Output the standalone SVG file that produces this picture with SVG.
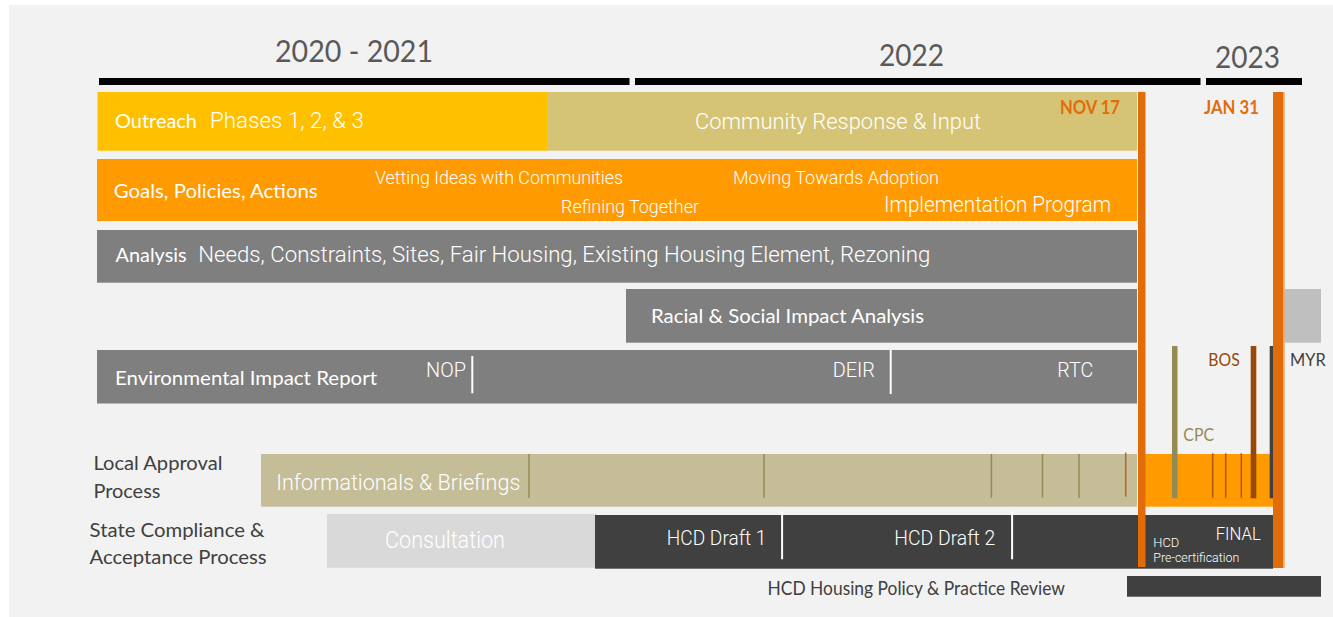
<svg xmlns="http://www.w3.org/2000/svg" width="1333" height="617" viewBox="0 0 1333 617">
  <style>
    .cal { font-family: Lato, "Open Sans", sans-serif; }
    .lt { font-family: Roboto, "Liberation Sans", sans-serif; font-weight: 300; }
    .w { fill: #ffffff; }
    .dk { fill: #404040; }
    .yr { font-size: 31px; fill: #595959; }
    .ms { font-size: 18px; font-weight: 700; fill: #E36C0A; }
    .grey { fill: #7F7F7F; }
    .tick-olive { stroke: #948A54; stroke-width: 1.5; }
    .tick-white { stroke: #ffffff; stroke-width: 2; }
  </style>

  <!-- canvas -->
  <rect x="0" y="0" width="1333" height="617" fill="#ffffff"/>
  <rect x="9" y="5" width="1324" height="612" fill="#f2f2f2"/>

  <!-- year scale -->
  <g id="years">
    <rect x="99" y="78" width="530.5" height="7" fill="#000"/>
    <rect x="635" y="78" width="565.5" height="7" fill="#000"/>
    <rect x="1206" y="78" width="96" height="7" fill="#000"/>
    <text class="cal yr" x="275" y="62" textLength="158" lengthAdjust="spacingAndGlyphs">2020 - 2021</text>
    <text class="cal yr" x="879" y="66" textLength="65" lengthAdjust="spacingAndGlyphs">2022</text>
    <text class="cal yr" x="1215" y="68" textLength="65" lengthAdjust="spacingAndGlyphs">2023</text>
  </g>

  <!-- outreach -->
  <g id="outreach">
    <rect x="97.5" y="92" width="449.5" height="58.7" fill="#FFC000"/>
    <rect x="547" y="92" width="590" height="58.7" fill="#D6C476"/>
    <text class="cal w" x="115" y="128.3" font-size="19.5" textLength="82" lengthAdjust="spacingAndGlyphs">Outreach</text>
    <text class="lt w" x="210" y="128.3" font-size="22" textLength="154" lengthAdjust="spacingAndGlyphs">Phases 1, 2, &amp; 3</text>
    <text class="lt w" x="695" y="129" font-size="22.5" textLength="286" lengthAdjust="spacingAndGlyphs">Community Response &amp; Input</text>
  </g>

  <!-- goals, policies, actions -->
  <g id="goals">
    <rect x="97" y="159" width="1040" height="62" fill="#FF9A00"/>
    <text class="cal w" x="113.7" y="197.7" font-size="19" textLength="204" lengthAdjust="spacingAndGlyphs">Goals, Policies, Actions</text>
    <text class="lt w" x="375" y="184.3" font-size="18.5" textLength="248" lengthAdjust="spacingAndGlyphs">Vetting Ideas with Communities</text>
    <text class="lt w" x="561" y="212.5" font-size="18.5" textLength="138" lengthAdjust="spacingAndGlyphs">Refining Together</text>
    <text class="lt w" x="733" y="184.3" font-size="18.5" textLength="206" lengthAdjust="spacingAndGlyphs">Moving Towards Adoption</text>
    <text class="lt w" x="884" y="212.3" font-size="22" textLength="227" lengthAdjust="spacingAndGlyphs">Implementation Program</text>
  </g>

  <!-- analysis -->
  <g id="analysis">
    <rect class="grey" x="97" y="230" width="1040" height="52.7"/>
    <text class="cal w" x="115.6" y="262" font-size="19" textLength="71" lengthAdjust="spacingAndGlyphs">Analysis</text>
    <text class="lt w" x="198.3" y="262.3" font-size="22" textLength="732" lengthAdjust="spacingAndGlyphs">Needs, Constraints, Sites, Fair Housing, Existing Housing Element, Rezoning</text>
  </g>

  <!-- racial & social impact analysis -->
  <g id="rsia">
    <rect class="grey" x="626" y="289" width="511" height="53.7"/>
    <text class="cal w" x="651" y="323.3" font-size="19.5" textLength="273" lengthAdjust="spacingAndGlyphs">Racial &amp; Social Impact Analysis</text>
  </g>
  <g id="rsia-tail">
    <rect x="1284" y="289" width="37" height="53.7" fill="#BFBFBF"/>
  </g>

  <!-- environmental impact report -->
  <g id="eir">
    <rect class="grey" x="97" y="350" width="1040" height="53.5"/>
    <text class="cal w" x="115" y="385" font-size="20" textLength="262" lengthAdjust="spacingAndGlyphs">Environmental Impact Report</text>
    <text class="lt w" x="426" y="376.7" font-size="19.5" textLength="40" lengthAdjust="spacingAndGlyphs">NOP</text>
    <line class="tick-white" x1="472.3" y1="356" x2="472.3" y2="393.3" stroke-width="1.5"/>
    <text class="lt w" x="832.7" y="376.7" font-size="19.5" textLength="42.3" lengthAdjust="spacingAndGlyphs">DEIR</text>
    <line class="tick-white" x1="890.7" y1="350" x2="890.7" y2="394" stroke-width="1.5"/>
    <text class="lt w" x="1057.3" y="376.7" font-size="19.5" textLength="36" lengthAdjust="spacingAndGlyphs">RTC</text>
  </g>

  <!-- local approval process -->
  <g id="local-approval">
    <text class="cal dk" x="93.4" y="470" font-size="19.5" textLength="129" lengthAdjust="spacingAndGlyphs">Local Approval</text>
    <text class="cal dk" x="93.4" y="498" font-size="19.5" textLength="67" lengthAdjust="spacingAndGlyphs">Process</text>
    <rect x="261" y="454" width="876" height="52.7" fill="#C4BD97"/>
    <rect x="1145" y="454" width="128" height="52.7" fill="#FF9A00"/>
    <text class="lt w" x="276.3" y="490" font-size="22.5" textLength="244" lengthAdjust="spacingAndGlyphs">Informationals &amp; Briefings</text>
    <line class="tick-olive" x1="529" y1="454" x2="529" y2="497.7"/>
    <line class="tick-olive" x1="764" y1="454" x2="764" y2="497.7"/>
    <line class="tick-olive" x1="991.4" y1="454" x2="991.4" y2="497.7"/>
    <line class="tick-olive" x1="1042.5" y1="454" x2="1042.5" y2="497.7"/>
    <line class="tick-olive" x1="1079" y1="454" x2="1079" y2="497.7"/>
    <line x1="1125.7" y1="452.5" x2="1125.7" y2="496.7" stroke="#C0661A" stroke-width="1.5"/>
    <line x1="1212.7" y1="453.3" x2="1212.7" y2="497.7" stroke="#B0580C" stroke-width="1.5"/>
    <line x1="1225.7" y1="453.3" x2="1225.7" y2="497.7" stroke="#B0580C" stroke-width="1.5"/>
    <line x1="1241.3" y1="453.3" x2="1241.3" y2="497.7" stroke="#B0580C" stroke-width="1.5"/>
  </g>

  <!-- state compliance & acceptance process -->
  <g id="state-compliance">
    <text class="cal dk" x="89.6" y="536.7" font-size="19.5" textLength="175" lengthAdjust="spacingAndGlyphs">State Compliance &amp;</text>
    <text class="cal dk" x="89.6" y="564" font-size="19.5" textLength="177" lengthAdjust="spacingAndGlyphs">Acceptance Process</text>
    <rect x="327" y="514" width="269" height="53.7" fill="#D9D9D9"/>
    <text class="lt w" x="385" y="548.3" font-size="23" textLength="120" lengthAdjust="spacingAndGlyphs">Consultation</text>
    <rect x="595" y="515" width="678" height="53.7" fill="#404040"/>
    <line class="tick-white" x1="782.1" y1="511.7" x2="782.1" y2="559.3"/>
    <line class="tick-white" x1="1012.1" y1="511.7" x2="1012.1" y2="559.3"/>
    <text class="lt w" x="666.8" y="545" font-size="20" textLength="99.6" lengthAdjust="spacingAndGlyphs">HCD Draft 1</text>
    <text class="lt w" x="894.3" y="545" font-size="20" textLength="101" lengthAdjust="spacingAndGlyphs">HCD Draft 2</text>
    <text class="lt w" x="1215.7" y="540" font-size="18" textLength="45" lengthAdjust="spacingAndGlyphs">FINAL</text>
    <text class="lt w" x="1153.3" y="547" font-size="13" textLength="26" lengthAdjust="spacingAndGlyphs">HCD</text>
    <text class="lt w" x="1153.3" y="561.7" font-size="13" textLength="86" lengthAdjust="spacingAndGlyphs">Pre-certification</text>
  </g>

  <!-- housing policy review -->
  <g id="policy-review">
    <rect x="1127" y="576" width="194" height="20.7" fill="#404040"/>
    <text class="cal dk" x="767.5" y="595.3" font-size="19" textLength="297.5" lengthAdjust="spacingAndGlyphs">HCD Housing Policy &amp; Practice Review</text>
  </g>

  <!-- milestone markers -->
  <g id="milestones">
    <rect x="1172" y="346" width="5.5" height="152.3" fill="#948A54"/>
    <rect x="1250.7" y="346" width="5.6" height="152.3" fill="#984807"/>
    <rect x="1269.7" y="346" width="3.6" height="152.3" fill="#404040"/>
    <rect x="1138" y="92" width="7.5" height="475" fill="#E36C0A"/>
    <rect x="1273" y="92" width="10.5" height="476" fill="#E36C0A"/>
    <rect x="1283.5" y="92" width="1.2" height="476" fill="#F2A66A"/>
    <text class="cal ms" x="1060" y="114" textLength="60" lengthAdjust="spacingAndGlyphs">NOV 17</text>
    <text class="cal ms" x="1204" y="114" textLength="55" lengthAdjust="spacingAndGlyphs">JAN 31</text>
    <text class="cal" x="1183.3" y="441.3" font-size="18" fill="#948A54" textLength="30.7" lengthAdjust="spacingAndGlyphs">CPC</text>
    <text class="cal" x="1208.3" y="365.7" font-size="18" fill="#984807" textLength="31.4" lengthAdjust="spacingAndGlyphs">BOS</text>
    <text class="cal dk" x="1290" y="365.7" font-size="18" textLength="35.7" lengthAdjust="spacingAndGlyphs">MYR</text>
  </g>
</svg>
